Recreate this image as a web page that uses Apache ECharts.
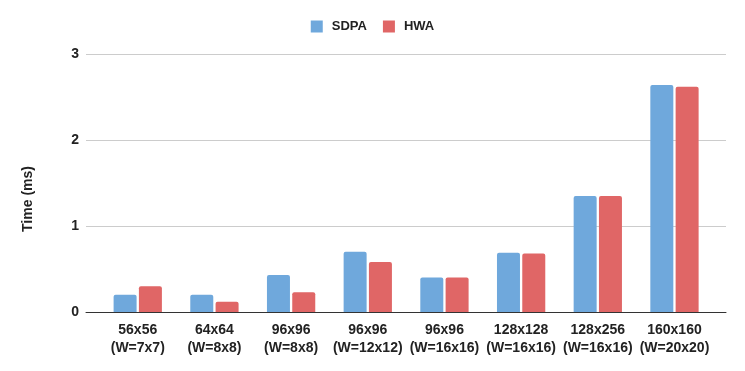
<!DOCTYPE html>
<html>
<head>
<meta charset="utf-8">
<script src="https://cdn.jsdelivr.net/npm/echarts@6/dist/echarts.min.js"></script>
<style>
  html, body { margin: 0; padding: 0; background: #fff; }
  #chart { width: 745px; height: 371px; }
</style>
</head>
<body>
<div id="chart"></div>
<script>
const categories = [
  "56x56\n(W=7x7)",
  "64x64\n(W=8x8)",
  "96x96\n(W=8x8)",
  "96x96\n(W=12x12)",
  "96x96\n(W=16x16)",
  "128x128\n(W=16x16)",
  "128x256\n(W=16x16)",
  "160x160\n(W=20x20)"
]
const sdpaValues = [0.20, 0.20, 0.43, 0.70, 0.40, 0.69, 1.35, 2.64]
const hwaValues = [0.30, 0.12, 0.23, 0.58, 0.40, 0.68, 1.35, 2.62]
const yTicks = [0, 1, 2, 3]

const font = "'Liberation Sans', Arial, sans-serif"
const chart = echarts.init(document.getElementById("chart"))

// category positions on a value axis so the gridlines can run past the outer bars
const catIdx = categories.map((_, i) => i)
const toPoints = (vals) => vals.map((v, i) => [i, v])

const option = {
  animation: false,
  textStyle: { fontFamily: font },
  legend: {
    top: 15,
    left: "center",
    itemWidth: 12,
    itemHeight: 12,
    itemGap: 16,
    icon: "rect",
    textStyle: { fontFamily: font, fontSize: 13, fontWeight: "bold", color: "#222", padding: [0, 0, 0, 4] },
    data: ["SDPA", "HWA"]
  },
  grid: { left: 86, right: 19, top: 54, bottom: 59 },
  xAxis: {
    type: "value",
    min: -0.675,
    max: 7.672,
    splitLine: { show: false },
    axisTick: { show: false },
    axisLine: { onZero: false, lineStyle: { color: "#333", width: 1 } },
    axisLabel: {
      customValues: catIdx,
      formatter: (v) => categories[Math.round(v)] || "",
      fontFamily: font,
      fontSize: 14,
      fontWeight: "bold",
      color: "#222",
      lineHeight: 18,
      margin: 9
    }
  },
  yAxis: {
    type: "value",
    min: yTicks[0],
    max: yTicks[yTicks.length - 1],
    interval: 1,
    name: "Time (ms)",
    nameLocation: "middle",
    nameGap: 51,
    nameTextStyle: { fontFamily: font, fontSize: 14, fontWeight: "bold", color: "#222", padding: [0, 32, 0, 0] },
    axisLine: { show: false },
    axisTick: { show: false },
    axisLabel: { fontFamily: font, fontSize: 14, fontWeight: "bold", color: "#222", margin: 7 },
    splitLine: { lineStyle: { color: "#cccccc" } }
  },
  series: [
    {
      name: "SDPA",
      type: "bar",
      data: toPoints(sdpaValues),
      barWidth: 23,
      barGap: "10%",
      itemStyle: { color: "#6fa8dc", borderRadius: [2, 2, 0, 0] }
    },
    {
      name: "HWA",
      type: "bar",
      data: toPoints(hwaValues),
      barWidth: 23,
      barGap: "10%",
      itemStyle: { color: "#e06666", borderRadius: [2, 2, 0, 0] }
    }
  ]
}

chart.setOption(option)
window.addEventListener("resize", () => chart.resize())
</script>
</body>
</html>
